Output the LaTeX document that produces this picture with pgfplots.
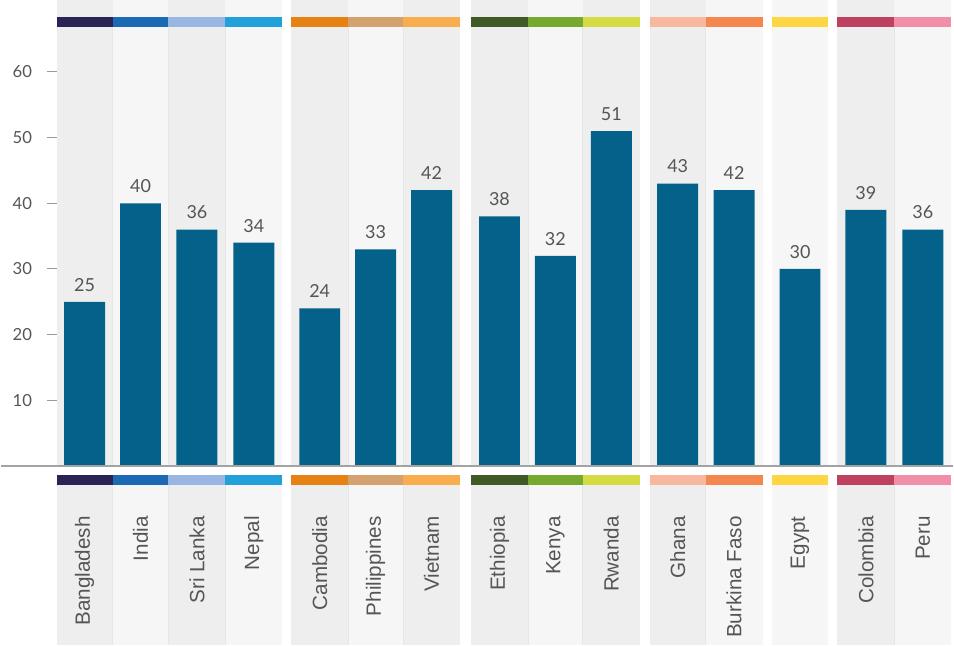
\documentclass[border=0pt]{standalone}
\usepackage{fontspec}
\setmainfont{Liberation Sans}
\newfontfamily\numfont{Lato}
\usepackage{pgfplots}
\usepackage{pgfplotstable}
\pgfplotsset{compat=1.18}
\definecolor{barblue}{HTML}{03618A}
\definecolor{bgD}{HTML}{EEEEEE}
\definecolor{bgL}{HTML}{F6F6F6}
\definecolor{sepgray}{HTML}{E6E6E6}
\definecolor{labgray}{HTML}{555555}
\definecolor{tickgray}{HTML}{9A9A9A}
\definecolor{axgray}{HTML}{A3A3A3}
\definecolor{cBan}{HTML}{2A2456}
\definecolor{cInd}{HTML}{1D6AB4}
\definecolor{cSri}{HTML}{98B6E1}
\definecolor{cNep}{HTML}{22A0DA}
\definecolor{cCam}{HTML}{E68213}
\definecolor{cPhi}{HTML}{D3A26E}
\definecolor{cVie}{HTML}{F8AE4E}
\definecolor{cEth}{HTML}{405A25}
\definecolor{cKen}{HTML}{76AA2E}
\definecolor{cRwa}{HTML}{D5DC43}
\definecolor{cGha}{HTML}{F8B8A0}
\definecolor{cBur}{HTML}{F3874E}
\definecolor{cEgy}{HTML}{FDD641}
\definecolor{cCol}{HTML}{BE4260}
\definecolor{cPer}{HTML}{F28FA8}
\pgfplotstableread{
x y
84 25
140 40
196.5 36
253.5 34
319.5 24
375.5 33
431.5 42
499.5 38
555.5 32
611.5 51
678 43
734.5 42
800.5 30
866.5 39
923.5 36
}\data
\newcommand\col[4]{%
  \fill[#3] (axis cs:#1,0) rectangle (axis cs:#2,70.94);
  \fill[#3] (axis cs:#1,-1.40) rectangle (axis cs:#2,-27.23);
  \fill[#4] (axis cs:#1,66.84) rectangle (axis cs:#2,68.36);
  \fill[#4] (axis cs:#1,-1.40) rectangle (axis cs:#2,-2.92);}
\newcommand\sep[1]{%
  \draw[sepgray, line width=0.6pt] (axis cs:#1,0) -- (axis cs:#1,66.84);
  \draw[sepgray, line width=0.6pt] (axis cs:#1,-2.92) -- (axis cs:#1,-27.23);}
\begin{document}
\begin{tikzpicture}
\begin{axis}[
  set layers=standard,
  x=0.75pt, y=4.935pt,
  xmin=56, xmax=952, ymin=0, ymax=70.94,
  axis line style={draw=none},
  clip=false,
  /pgf/number format/assume math mode=true,
  ytick={10,20,...,60},
  ytick pos=left,
  ytick align=outside,
  yticklabel style={font=\numfont\fontsize{12.5}{14}\selectfont, text=labgray, xshift=-7.5pt},
  y tick style={draw=tickgray, line width=0.75pt},
  major tick length=7.5pt,
  xtick pos=bottom,
  xtick align=inside,
  xtick={84,140,196.5,253.5,319.5,375.5,431.5,499.5,555.5,611.5,678,734.5,800.5,866.5,923.5},
  xticklabels={Bangladesh,India,Sri Lanka,Nepal,Cambodia,Philippines,Vietnam,Ethiopia,Kenya,Rwanda,Ghana,Burkina Faso,Egypt,Colombia,Peru},
  x tick style={draw=none},
  xticklabel style={rotate=90, anchor=east, inner sep=0pt, font=\fontsize{15.5}{18}\selectfont, text=labgray},
  xticklabel shift=37.5pt,
]
\begin{pgfonlayer}{axis background}
\col{56}{112}{bgD}{cBan}
\col{112}{168}{bgL}{cInd}
\col{168}{225}{bgD}{cSri}
\col{225}{282}{bgL}{cNep}
\col{291}{348}{bgD}{cCam}
\col{348}{403}{bgL}{cPhi}
\col{403}{460}{bgD}{cVie}
\col{471}{528}{bgD}{cEth}
\col{528}{583}{bgL}{cKen}
\col{583}{640}{bgD}{cRwa}
\col{650}{706}{bgD}{cGha}
\col{706}{763}{bgL}{cBur}
\col{772}{829}{bgL}{cEgy}
\col{838}{895}{bgD}{cCol}
\col{895}{952}{bgL}{cPer}
\sep{112}\sep{168}\sep{225}\sep{348}\sep{403}\sep{528}\sep{583}\sep{706}\sep{895}
\end{pgfonlayer}
\addplot[ybar, bar width=41, fill=barblue, draw=none,
  nodes near coords,
  nodes near coords style={font=\numfont\fontsize{13.5}{16}\selectfont, text=labgray, anchor=base, yshift=8pt}]
  table[x=x, y=y] {\data};
\draw[axgray, line width=1.1pt] (axis cs:0,0) -- (axis cs:954,0);
\end{axis}
\end{tikzpicture}
\end{document}
